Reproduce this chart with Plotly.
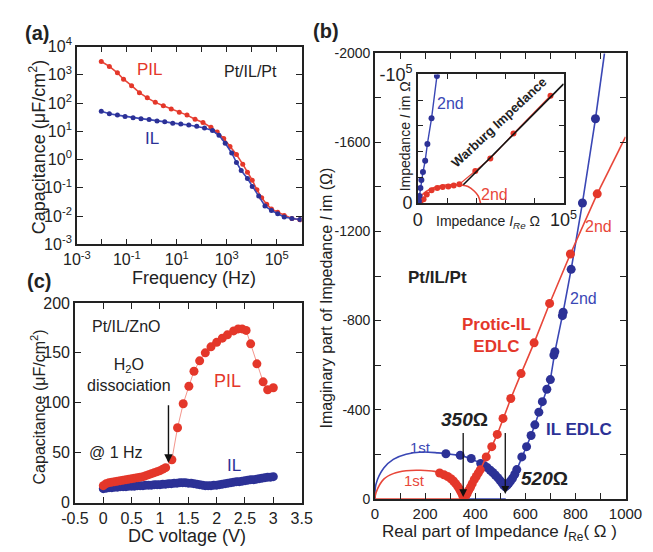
import plotly.graph_objects as go

W, H = 653, 552
FONT = "Liberation Sans, Arial, sans-serif"
RED = "#e4372a"
BLUE = "#2c3196"
RED_L = "#e8473a"
BLUE_L = "#3a47b5"
INK = "#222222"

# ---------------- panel (a): capacitance vs frequency ----------------
freq_pil = [0.0095, 0.020, 0.042, 0.074, 0.155, 0.32, 0.66, 1.38, 2.9, 6.0,
            12.6, 25.7, 54, 112, 234, 417, 759, 1350, 2450, 4370,
            6760, 10500, 16200, 25100, 39800, 61700, 110000, 200000, 407000, 851000]
cap_pil = [2950, 1990, 1175, 698, 414, 233, 153, 106, 80, 61.5,
           47, 37.5, 26.7, 20.6, 13.9, 9.4, 5.6, 2.9, 1.51, 0.69,
           0.36, 0.187, 0.0855, 0.0446, 0.0264, 0.0179, 0.0138, 0.0106, 0.0082, 0.0074]
freq_il = [0.0095, 0.020, 0.042, 0.085, 0.178, 0.37, 0.78, 1.62, 3.3, 6.9,
           14.5, 30.2, 63, 129, 269, 490, 871, 1580, 2450, 3800,
           6760, 10500, 19100, 33900, 61700, 110000, 200000, 407000, 851000]
cap_il = [51, 41.7, 37.5, 33.7, 30.4, 28.1, 26.0, 23.4, 21.7, 19.5,
          18.0, 16.7, 15.0, 13.2, 10.7, 7.2, 3.8, 1.72, 0.79, 0.41,
          0.213, 0.111, 0.051, 0.023, 0.0157, 0.0121, 0.0093, 0.0082, 0.0076]
a_xticks = [1e-3, 1e-2, 1e-1, 1, 10, 100, 1e3, 1e4, 1e5, 1e6]
a_xtext = ["10<sup>-3</sup>", "", "10<sup>-1</sup>", "", "10<sup>1</sup>", "",
           "10<sup>3</sup>", "", "10<sup>5</sup>", ""]
a_yticks = [1e-3, 1e-2, 1e-1, 1, 10, 100, 1e3, 1e4]
a_ytext = ["10<sup>-3</sup>", "10<sup>-2</sup>", "10<sup>-1</sup>", "10<sup>0</sup>",
           "10<sup>1</sup>", "10<sup>2</sup>", "10<sup>3</sup>", "10<sup>4</sup>"]

# ---------------- panel (c): capacitance vs DC voltage ----------------
v_pil = [0.0, 0.05, 0.1, 0.15, 0.2, 0.25, 0.3, 0.35, 0.4, 0.45, 0.5, 0.55, 0.6,
         0.65, 0.7, 0.75, 0.8, 0.85, 0.9, 0.95, 1.0, 1.05, 1.1,
         1.21, 1.31, 1.41, 1.51, 1.60, 1.70, 1.80, 1.90, 2.00, 2.10, 2.19, 2.30,
         2.38, 2.45, 2.52, 2.60, 2.71, 2.82, 2.90, 3.0]
c_pil = [17, 19, 20, 20.5, 21, 21.5, 22, 22.5, 23, 23.5, 24, 24.5, 25,
         25.5, 26, 27, 28, 29, 30, 31, 32, 33.5, 35,
         43, 75, 99, 116.5, 131.6, 142, 150, 156, 160.5, 164.7, 168, 172,
         174, 174, 172.5, 159, 139, 121, 113, 115]
v_il = [0.0, 0.05, 0.1, 0.15, 0.2, 0.25, 0.3, 0.35, 0.4, 0.45, 0.5, 0.55, 0.6,
        0.65, 0.7, 0.75, 0.8, 0.85, 0.9, 0.95, 1.0, 1.05, 1.1, 1.15, 1.2, 1.25,
        1.3, 1.35, 1.4, 1.45, 1.5, 1.55, 1.6, 1.65, 1.7, 1.75, 1.8, 1.85, 1.9,
        1.95, 2.0, 2.05, 2.1, 2.15, 2.2, 2.25, 2.3, 2.35, 2.4, 2.45, 2.5, 2.55,
        2.6, 2.65, 2.7, 2.75, 2.8, 2.85, 2.9, 2.95, 3.0]
c_il = [14, 14.5, 15, 15, 15.5, 15.5, 16, 16, 16, 16.5, 16.5, 16.5, 17,
        17, 17, 17.5, 17.5, 17.5, 18, 18, 18, 18.5, 18.5, 19, 19, 19.5,
        19.5, 20, 20, 20, 19.5, 19.5, 19, 18.5, 18, 17.5, 17, 17, 17,
        17.5, 17.5, 18, 18.5, 19, 19.5, 20, 20.5, 21, 21, 21.5, 22, 22.5,
        23, 23, 23.5, 24, 24.5, 25, 25.5, 25.5, 26]
c_xticks = [-0.5, 0, 0.5, 1, 1.5, 2, 2.5, 3, 3.5]
c_xtext = ["-0.5", "0", "0.5", "1", "1.5", "2", "2.5", "3", "3.5"]
c_yticks = [0, 50, 100, 150, 200]

# ---------------- panel (b): Nyquist plot ----------------
re_pil = [258, 275, 290, 303, 313, 322, 330, 337, 343, 348, 352, 356, 362, 368,
          374, 381, 388, 396, 404, 412, 420, 444, 466, 488, 511, 542, 583, 635,
          697, 780, 887]
im_pil = [-116, -108, -100, -90, -80, -68, -56, -44, -32, -20, -8, -2, -12, -24,
          -38, -52, -68, -86, -100, -115, -130, -188, -234, -289, -361, -450, -562, -700,
          -877, -1099, -1369]
re_pil_ext = [887, 1000]
im_pil_ext = [-1369, -1625]
re_pil_arc = [0, 4, 35, 73, 124, 182, 238, 270, 300, 333, 352, 358]
im_pil_arc = [0, -27, -88, -113, -126, -128, -123, -112, -96, -59, -16, 0]
re_pil_base = [0, 358]
im_pil_base = [0, 0]

re_il = [283, 340, 384, 422, 435, 448, 460, 470, 480, 490, 498, 506, 513, 520,
         527, 534, 541, 549, 558, 566, 586, 605, 623, 638, 654, 668, 686, 700,
         714, 718, 748, 751, 783, 828, 880]
im_il = [-202, -195, -181, -159, -150, -140, -128, -118, -107, -95, -84, -73, -62, -54,
         -60, -70, -80, -92, -110, -131, -188, -234, -284, -332, -389, -436, -492, -535,
         -645, -660, -822, -838, -1030, -1328, -1706]
re_il_ext = [880, 916]
im_il_ext = [-1706, -2000]
re_il_arc = [0, 4, 35, 73, 124, 188, 251, 283]
im_il_arc = [0, -66, -138, -177, -200, -210, -206, -202]
re_il_base = [358, 522]
im_il_base = [0, 0]
b_xticks = [0, 100, 200, 300, 400, 500, 600, 700, 800, 900, 1000]
b_xtext = ["0", "", "200", "", "400", "", "600", "", "800", "", "1000"]
b_yticks = [0, -200, -400, -600, -800, -1000, -1200, -1400, -1600, -1800, -2000]
b_ytext = ["0", "", "-400", "", "-800", "", "-1200", "", "-1600", "", "-2000"]

# ---------------- inset of (b) ----------------
ins_re_il = [0, 300, 650, 1090, 1740, 2400, 3490, 5010, 6540, 9370, 13070]
ins_im_il = [0, -600, -1700, -5450, -11700, -17900, -24100, -32800, -46000, -65900, -98700]
ins_re_il_ext = [13070, 13700]
ins_im_il_ext = [-98700, -100000]
ins_re_pil = [1000, 2000, 3900, 6100, 9400, 13300, 17000, 20900, 24600, 28500,
              39400, 49700, 65600, 91000]
ins_im_pil = [-800, -1800, -3000, -6700, -9900, -11700, -12400, -12900, -13700, -14700,
              -24900, -34600, -54000, -83400]
ins_re_arc = [0, 1500, 4000, 8000, 13000, 19000, 25000, 30000, 34400, 38800, 41400, 43000]
ins_im_arc = [0, -4000, -7500, -10500, -12700, -14000, -14300, -14000, -12900, -9200, -5500, 0]
ins_re_warburg = [31200, 100000]
ins_im_warburg = [-14200, -92600]
ins_ticks_x = [0, 20000, 40000, 60000, 80000, 100000]
ins_text_x = ["0", "", "", "", "", "10<sup>5</sup>"]
ins_ticks_y = [0, -20000, -40000, -60000, -80000, -100000]
ins_text_y = ["0", "", "", "", "", "-10<sup>5</sup>"]


def px(x):
    return x / W


def py(y):
    return 1 - y / H


def axis(**kw):
    base = dict(showline=True, linecolor=INK, linewidth=1.6, mirror="ticks",
                ticks="inside", ticklen=6, tickwidth=1.3, tickcolor=INK,
                showgrid=False, zeroline=False,
                tickfont=dict(family=FONT, size=16, color=INK))
    base.update(kw)
    return base


fig = go.Figure()

# (a)
fig.add_trace(go.Scatter(x=freq_pil, y=cap_pil, mode="lines+markers", xaxis="x", yaxis="y",
                         line=dict(color=RED_L, width=1.6), marker=dict(size=5, color=RED)))
fig.add_trace(go.Scatter(x=freq_il, y=cap_il, mode="lines+markers", xaxis="x", yaxis="y",
                         line=dict(color=BLUE_L, width=1.6), marker=dict(size=5, color=BLUE)))

# (c)
fig.add_trace(go.Scatter(x=v_il, y=c_il, mode="markers", xaxis="x2", yaxis="y2",
                         marker=dict(size=9, color=BLUE)))
fig.add_trace(go.Scatter(x=v_pil, y=c_pil, mode="lines+markers", xaxis="x2", yaxis="y2",
                         line=dict(color="#f07a6e", width=0.8), marker=dict(size=9, color=RED)))

# (b) main
for xs, ys, col in [(re_pil_base, im_pil_base, RED_L), (re_il_base, im_il_base, BLUE_L)]:
    fig.add_trace(go.Scatter(x=xs, y=ys, mode="lines", xaxis="x3", yaxis="y3",
                             line=dict(color=col, width=1.6)))
fig.add_trace(go.Scatter(x=re_il_arc, y=im_il_arc, mode="lines", xaxis="x3", yaxis="y3",
                         line=dict(color=BLUE_L, width=1.6, shape="spline")))
fig.add_trace(go.Scatter(x=re_pil_arc, y=im_pil_arc, mode="lines", xaxis="x3", yaxis="y3",
                         line=dict(color=RED_L, width=1.6, shape="spline")))
fig.add_trace(go.Scatter(x=re_il_ext, y=im_il_ext, mode="lines", xaxis="x3", yaxis="y3",
                         line=dict(color=BLUE_L, width=1.6)))
fig.add_trace(go.Scatter(x=re_il, y=im_il, mode="lines+markers", xaxis="x3", yaxis="y3",
                         line=dict(color=BLUE_L, width=1.6), marker=dict(size=9, color=BLUE)))
fig.add_trace(go.Scatter(x=re_pil_ext, y=im_pil_ext, mode="lines", xaxis="x3", yaxis="y3",
                         line=dict(color=RED_L, width=1.6)))
fig.add_trace(go.Scatter(x=re_pil, y=im_pil, mode="lines+markers", xaxis="x3", yaxis="y3",
                         line=dict(color=RED_L, width=1.6), marker=dict(size=9, color=RED)))

# inset
fig.add_trace(go.Scatter(x=ins_re_arc, y=ins_im_arc, mode="lines", xaxis="x4", yaxis="y4",
                         line=dict(color=RED_L, width=1.6, shape="spline")))
fig.add_trace(go.Scatter(x=ins_re_pil, y=ins_im_pil, mode="lines+markers", xaxis="x4", yaxis="y4",
                         line=dict(color=RED_L, width=1.2), marker=dict(size=6, color=RED)))
fig.add_trace(go.Scatter(x=ins_re_warburg, y=ins_im_warburg, mode="lines", xaxis="x4", yaxis="y4",
                         line=dict(color="#111111", width=1.6)))
fig.add_trace(go.Scatter(x=ins_re_il_ext, y=ins_im_il_ext, mode="lines", xaxis="x4", yaxis="y4",
                         line=dict(color=BLUE_L, width=1.4)))
fig.add_trace(go.Scatter(x=ins_re_il, y=ins_im_il, mode="lines+markers", xaxis="x4", yaxis="y4",
                         line=dict(color=BLUE_L, width=1.4), marker=dict(size=6, color=BLUE)))

ann = []


def text(x, y, s, size=16, color=INK, xref="paper", yref="paper", **kw):
    d = dict(x=x, y=y, xref=xref, yref=yref, text=s, showarrow=False,
             font=dict(family=FONT, size=size, color=color), xanchor="center", yanchor="middle")
    d.update(kw)
    ann.append(d)


# panel labels
text(px(24), py(22), "<b>(a)</b>", size=20)
text(px(328), py(20), "<b>(b)</b>", size=20)
text(px(26), py(280), "<b>(c)</b>", size=20)

# axis titles
text(px(25), py(141), "Capacitance (μF/cm<sup>2</sup>)", size=18, textangle=-90)
text(px(189), py(277), "Frequency (Hz)", size=18)
text(px(25), py(411), "Capacitance (μF/cm<sup>2</sup>)", size=16, textangle=-90)
text(px(182), py(546), "DC voltage (V)", size=18)
text(px(328), py(298), "Imaginary part of Impedance <i>I</i> im (Ω)", size=16, textangle=-90)
text(px(510), py(543), "Real part of Impedance <i>I</i><sub>Re</sub>( Ω )", size=17)
text(px(410), py(130), "Impedance <i>I</i> im Ω", size=14, textangle=-90)
text(px(498), py(219), "Impedance <i>I<sub>Re</sub></i> Ω", size=14)

# (a) labels
text(px(143), py(60), "PIL", size=17, color=RED)
text(px(248), py(62), "Pt/IL/Pt", size=16)
text(px(145), py(132), "IL", size=17, color=BLUE)

# (c) labels
text(0.4, 176, "Pt/IL/ZnO", size=16, xref="x2", yref="y2")
text(0.45, 128, "H<sub>2</sub>O<br>dissociation", size=16, xref="x2", yref="y2")
text(0.23, 50, "@ 1 Hz", size=16, xref="x2", yref="y2")
text(2.2, 122, "PIL", size=18, color=RED, xref="x2", yref="y2")
text(2.3, 37, "IL", size=17, color=BLUE, xref="x2", yref="y2")
ann.append(dict(x=1.15, y=40, ax=1.15, ay=99, xref="x2", yref="y2", axref="x2", ayref="y2",
                showarrow=True, arrowhead=2, arrowsize=1.2, arrowwidth=1.4, arrowcolor="#111111", text=""))

# (b) labels
text(251, -993, "<b>Pt/IL/Pt</b>", size=17, xref="x3", yref="y3")
text(486, -734, "<b>Protic-IL<br>EDLC</b>", size=17, color=RED, xref="x3", yref="y3")
text(815, -310, "<b>IL EDLC</b>", size=17, color=BLUE, xref="x3", yref="y3")
text(359, -355, "<b><i>350</i>Ω</b>", size=19, xref="x3", yref="y3")
text(678, -90, "<b><i>520</i>Ω</b>", size=19, xref="x3", yref="y3")
text(181, -231, "1st", size=15, color=BLUE_L, xref="x3", yref="y3")
text(156, -80, "1st", size=15, color=RED_L, xref="x3", yref="y3")
text(834, -900, "2nd", size=16, color=BLUE_L, xref="x3", yref="y3")
text(894, -1223, "2nd", size=16, color=RED_L, xref="x3", yref="y3")
ann.append(dict(x=352, y=-8, ax=352, ay=-302, xref="x3", yref="y3", axref="x3", ayref="y3",
                showarrow=True, arrowhead=2, arrowsize=1.2, arrowwidth=1.3, arrowcolor="#111111", text=""))
ann.append(dict(x=520, y=-22, ax=520, ay=-302, xref="x3", yref="y3", axref="x3", ayref="y3",
                showarrow=True, arrowhead=2, arrowsize=1.2, arrowwidth=1.3, arrowcolor="#111111", text=""))

# inset labels
text(22200, -77600, "2nd", size=16, color=BLUE_L, xref="x4", yref="y4")
text(52900, -6700, "2nd", size=16, color=RED_L, xref="x4", yref="y4")
text(55500, -62500, "<b>Warburg Impedance</b>", size=13, xref="x4", yref="y4", textangle=-43)

fig.update_layout(
    width=W, height=H,
    margin=dict(l=0, r=0, t=0, b=0),
    paper_bgcolor="white", plot_bgcolor="white",
    showlegend=False,
    font=dict(family=FONT, color=INK),
    annotations=ann,
    xaxis=axis(type="log", range=[-3, 6], domain=[px(66), px(302)], anchor="y",
               tickvals=a_xticks, ticktext=a_xtext),
    yaxis=axis(type="log", range=[-3, 4], domain=[py(242), py(36)], anchor="x",
               tickvals=a_yticks, ticktext=a_ytext),
    xaxis2=axis(range=[-0.5, 3.5], domain=[px(64), px(302)], anchor="y2",
                tickvals=c_xticks, ticktext=c_xtext),
    yaxis2=axis(range=[0, 200], domain=[py(511), py(303)], anchor="x2", tickvals=c_yticks),
    xaxis3=axis(range=[0, 1000], domain=[px(379), px(642)], anchor="y3",
                tickvals=b_xticks, ticktext=b_xtext, tickfont=dict(family=FONT, size=15, color=INK)),
    yaxis3=axis(range=[0, -2000], domain=[py(507), py(43)], anchor="x3",
                tickvals=b_yticks, ticktext=b_ytext, tickfont=dict(family=FONT, size=14, color=INK)),
    xaxis4=axis(range=[0, 100000], domain=[px(424), px(577)], anchor="y4",
                tickvals=ins_ticks_x, ticktext=ins_text_x, ticklen=5,
                tickfont=dict(family=FONT, size=18, color=INK)),
    yaxis4=axis(range=[0, -100000], domain=[py(199), py(65)], anchor="x4",
                tickvals=ins_ticks_y, ticktext=ins_text_y, ticklen=5,
                tickfont=dict(family=FONT, size=18, color=INK)),
)

fig.write_html("out.html")
